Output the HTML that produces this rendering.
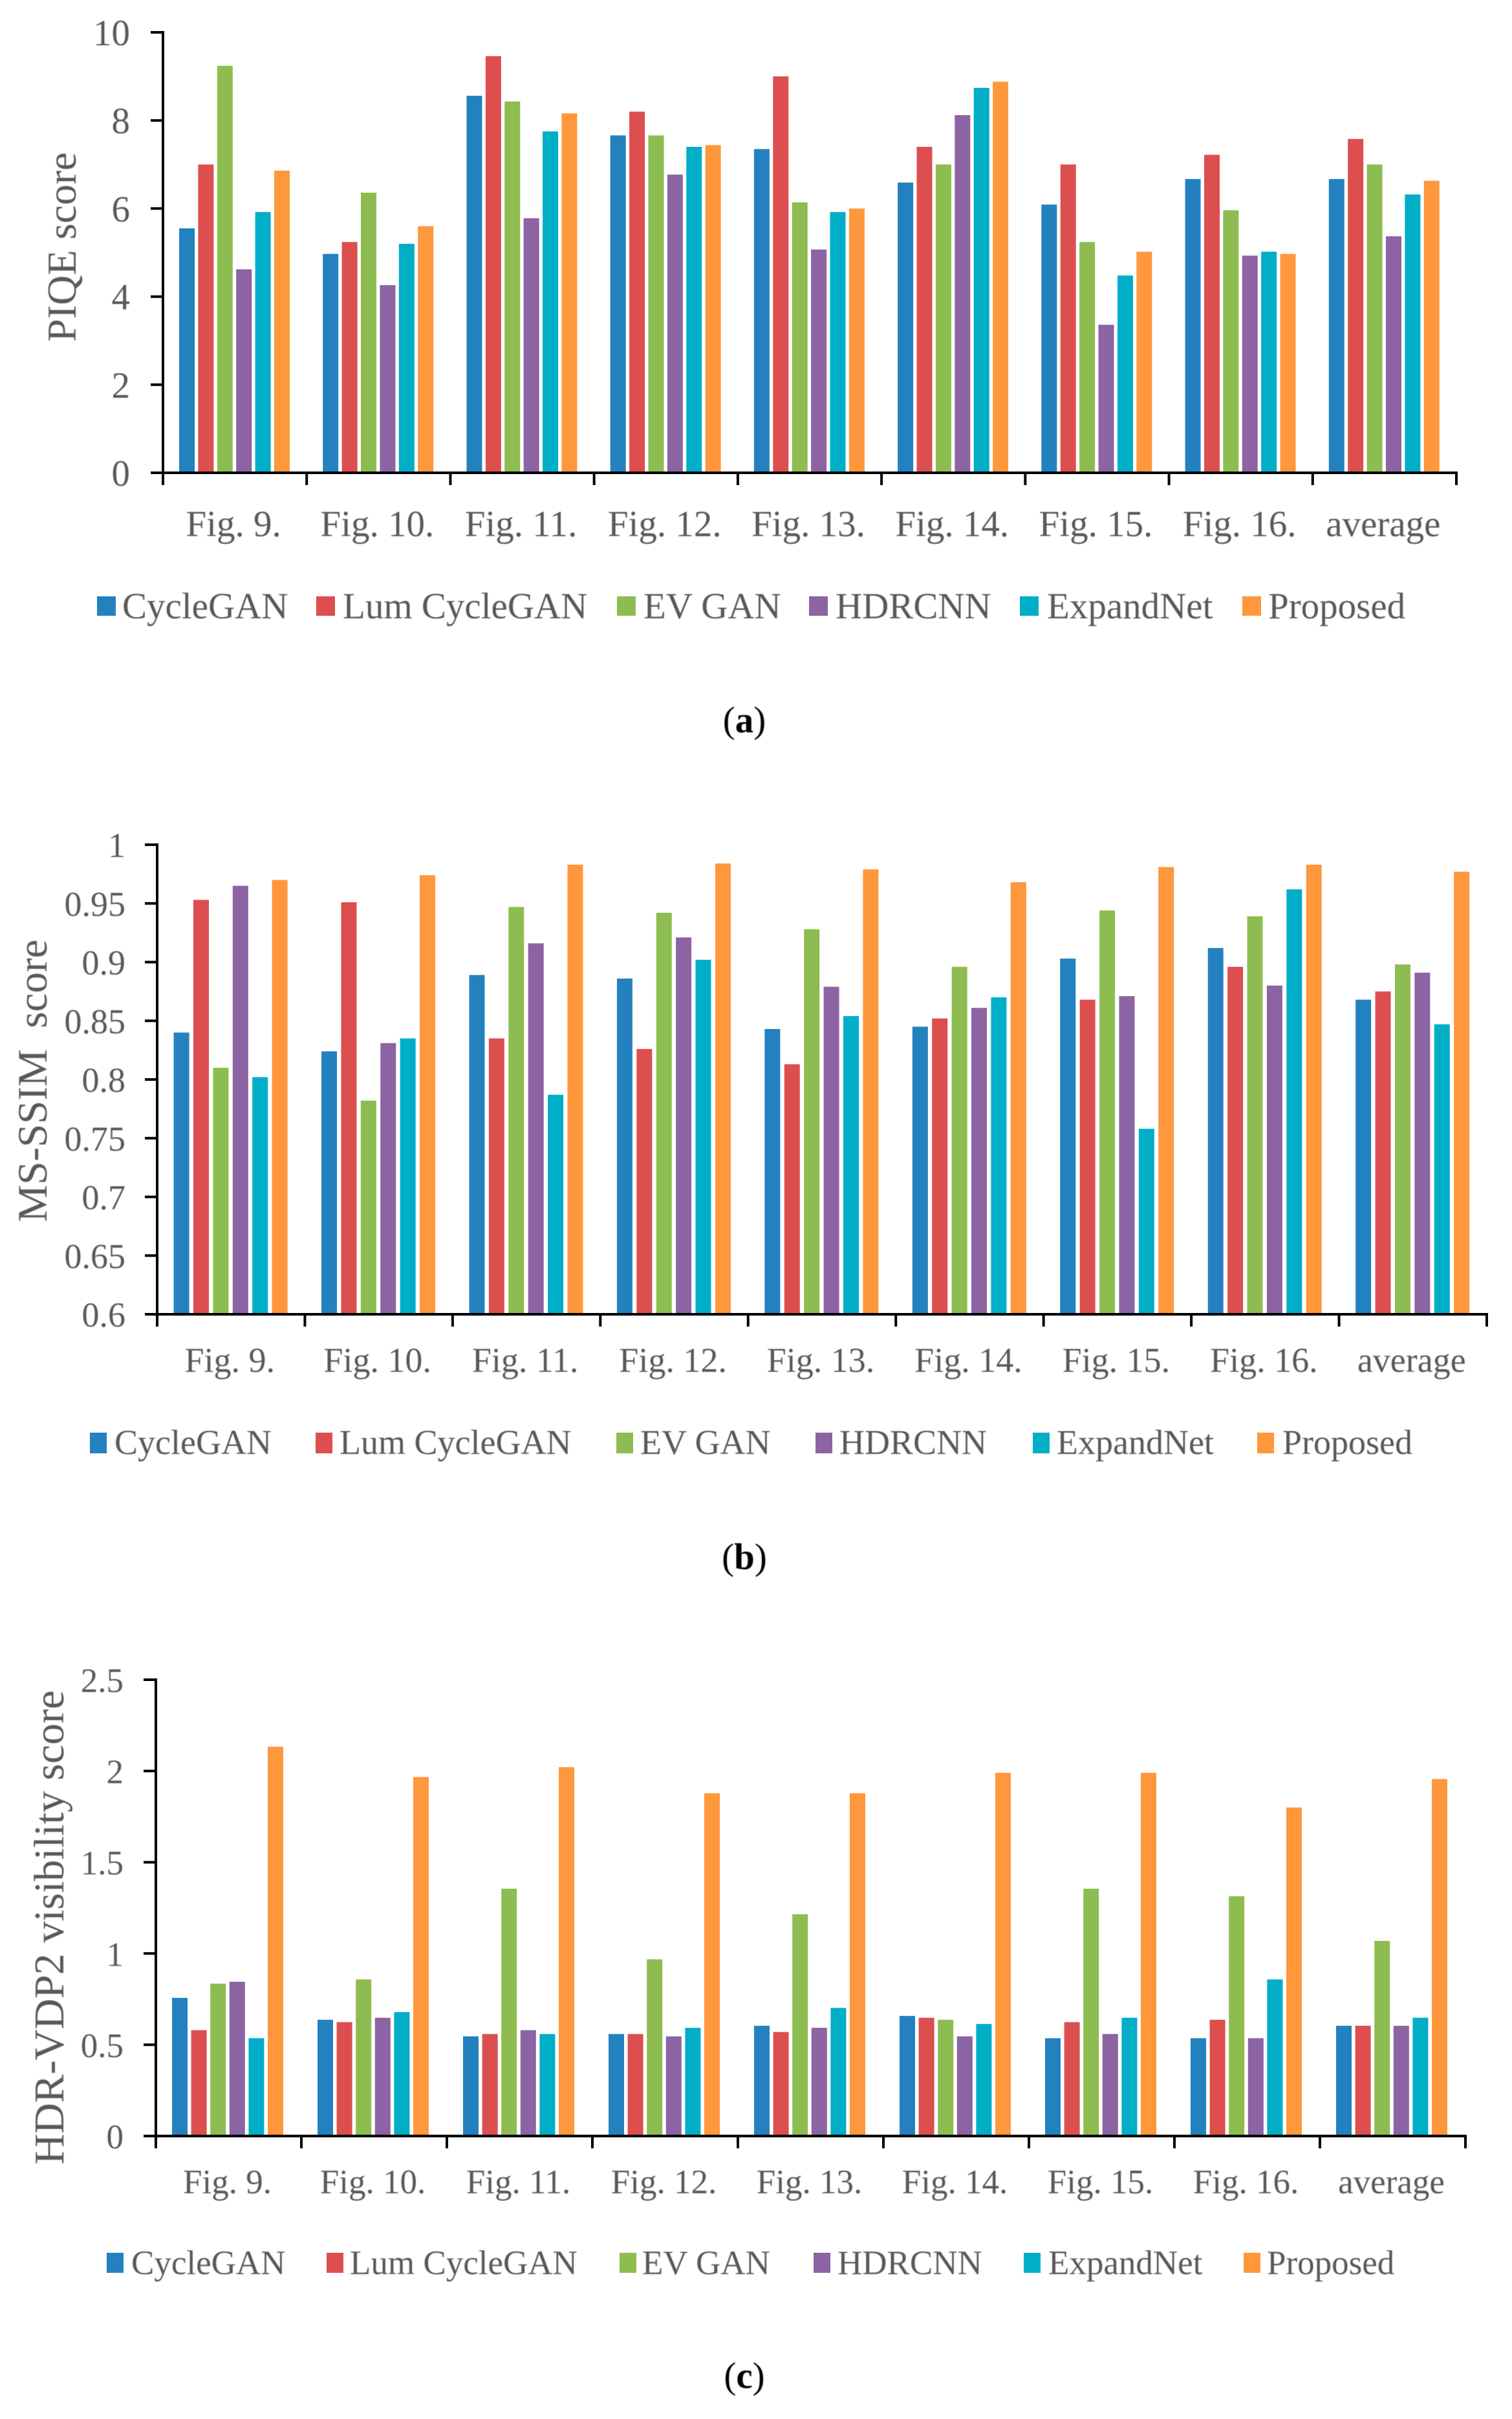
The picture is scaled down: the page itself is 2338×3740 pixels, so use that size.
<!DOCTYPE html>
<html lang="en">
<head>
<meta charset="utf-8">
<title>PIQE, MS-SSIM and HDR-VDP2 scores</title>
<style>
html,body{margin:0;padding:0;background:#fff;}
svg{display:block;}
text{font-family:"Liberation Serif",serif;fill:#595959;filter:blur(0.6px);}
</style>
</head>
<body>
<svg id="figure" xmlns="http://www.w3.org/2000/svg" width="2338" height="3740" viewBox="0 0 2338 3740">
<rect width="2338" height="3740" fill="#ffffff"/>
<text x="1151" y="1132" text-anchor="middle" font-size="57" style="fill:#000">(<tspan font-weight="bold" style="fill:#000">a</tspan>)</text>
<text x="1151" y="2426" text-anchor="middle" font-size="57" style="fill:#000">(<tspan font-weight="bold" style="fill:#000">b</tspan>)</text>
<text x="1151" y="3692" text-anchor="middle" font-size="57" style="fill:#000">(<tspan font-weight="bold" style="fill:#000">c</tspan>)</text>
</svg>
<script>
const categories = ['Fig. 9.','Fig. 10.','Fig. 11.','Fig. 12.','Fig. 13.','Fig. 14.','Fig. 15.','Fig. 16.','average'];
const seriesNames = ['CycleGAN','Lum CycleGAN','EV GAN','HDRCNN','ExpandNet','Proposed'];

const piqeTicks = ['0','2','4','6','8','10'];
const piqeCycleGAN = [5.55,4.97,8.56,7.66,7.35,6.59,6.09,6.67,6.67];
const piqeLumCycleGAN = [7.00,5.24,9.46,8.20,9.00,7.40,7.00,7.22,7.58];
const piqeEVGAN = [9.24,6.36,8.43,7.66,6.14,7.00,5.24,5.96,7.00];
const piqeHDRCNN = [4.62,4.26,5.78,6.77,5.07,8.12,3.36,4.93,5.37];
const piqeExpandNet = [5.92,5.20,7.75,7.40,5.92,8.74,4.48,5.02,6.32];
const piqeProposed = [6.86,5.60,8.16,7.44,6.00,8.88,5.02,4.97,6.63];

const ssimTicks = ['0.6','0.65','0.7','0.75','0.8','0.85','0.9','0.95','1'];
const ssimCycleGAN = [0.840,0.824,0.889,0.886,0.843,0.845,0.903,0.912,0.868];
const ssimLumCycleGAN = [0.953,0.951,0.835,0.826,0.813,0.852,0.868,0.896,0.875];
const ssimEVGAN = [0.810,0.782,0.947,0.942,0.928,0.896,0.944,0.939,0.898];
const ssimHDRCNN = [0.965,0.831,0.916,0.921,0.879,0.861,0.871,0.880,0.891];
const ssimExpandNet = [0.802,0.835,0.787,0.902,0.854,0.870,0.758,0.962,0.847];
const ssimProposed = [0.970,0.974,0.983,0.984,0.979,0.968,0.981,0.983,0.977];

const vdpTicks = ['0','0.5','1','1.5','2','2.5'];
const vdpCycleGAN = [0.757,0.637,0.546,0.559,0.604,0.658,0.536,0.536,0.604];
const vdpLumCycleGAN = [0.580,0.624,0.559,0.559,0.570,0.648,0.624,0.637,0.604];
const vdpEVGAN = [0.835,0.858,1.355,0.968,1.215,0.637,1.355,1.314,1.069];
const vdpHDRCNN = [0.845,0.648,0.580,0.546,0.593,0.546,0.559,0.536,0.604];
const vdpExpandNet = [0.536,0.679,0.559,0.593,0.702,0.614,0.648,0.858,0.648];
const vdpProposed = [2.133,1.967,2.021,1.878,1.878,1.990,1.990,1.800,1.956];

const seriesColors = ['#2481bf','#dd4f4f','#8dbd50','#8c63a3','#00aec8','#ff973c'];
const NS = 'http://www.w3.org/2000/svg';
const figure = document.getElementById('figure');

function mk(parent, tag, attrs, txt) {
  const el = document.createElementNS(NS, tag);
  for (const k in attrs) el.setAttribute(k, attrs[k]);
  if (txt !== undefined) el.textContent = txt;
  parent.appendChild(el);
  return el;
}
function slug(s) {
  return s.toLowerCase().replace(/[^a-z0-9]+/g, '-').replace(/-$/, '');
}

function drawChart(cfg) {
  const g = mk(figure, 'g', {});
  
  
  const vMin = parseFloat(cfg.ticks[0]);
  const vMax = parseFloat(cfg.ticks[cfg.ticks.length - 1]);
  const yScale = v => cfg.y0 + (v - vMin) / (vMax - vMin) * (cfg.y1 - cfg.y0);
  const xScale = i => cfg.x0 + i * (cfg.x1 - cfg.x0) / categories.length;

  // bars
  cfg.series.forEach((vals, s) => {
    vals.forEach((v, c) => {
      const top = yScale(v);
      const bar = mk(g, 'rect', {x: xScale(c) + cfg.pad + s * cfg.slot, y: top, width: cfg.barW, height: Math.max(0, cfg.y0 - top), fill: seriesColors[s]});
      
      
    });
  });

  // axes
  const yAxis = mk(g, 'line', {x1: cfg.x0, x2: cfg.x0, y1: cfg.y1 - 2, y2: cfg.y0 + 2, stroke: '#000', 'stroke-width': 4});
  
  
  const xAxis = mk(g, 'line', {x1: cfg.x0 - 19, x2: cfg.x1 + 2, y1: cfg.y0, y2: cfg.y0, stroke: '#000', 'stroke-width': 4});
  
  

  // y ticks
  cfg.ticks.forEach(t => {
    const y = yScale(parseFloat(t));
    const tick = mk(g, 'line', {x1: cfg.x0 - 19, x2: cfg.x0, y1: y, y2: y, stroke: '#000', 'stroke-width': 4});
    
    
    const lab = mk(g, 'text', {x: cfg.yLabelX, y: y + cfg.yLabelDy, 'text-anchor': 'end', 'font-size': cfg.fs}, t);
    
    
  });

  // x ticks and labels
  for (let i = 0; i <= categories.length; i++) {
    const tick = mk(g, 'line', {x1: xScale(i), x2: xScale(i), y1: cfg.y0, y2: cfg.y0 + 19, stroke: '#000', 'stroke-width': 4});
    
    
  }
  categories.forEach((c, i) => {
    const lab = mk(g, 'text', {x: xScale(i + 0.5) - 2, y: cfg.xLabelY, 'text-anchor': 'middle', 'font-size': cfg.fs}, c);
    
    
  });

  // y title
  const title = mk(g, 'text', {transform: 'translate(' + cfg.titleX + ' ' + cfg.titleY + ') rotate(-90)', 'text-anchor': 'middle', 'font-size': cfg.titleFs}, cfg.title);
  title.setAttribute('xml:space', 'preserve');
  title.style.whiteSpace = 'pre';
  
  

  // legend
  seriesNames.forEach((n, s) => {
    const e = mk(g, 'g', {});
    
    
    const sw = mk(e, 'rect', {x: cfg.legSwatch[s], y: cfg.legY, width: cfg.legW, height: cfg.legH, fill: seriesColors[s]});
    
    
    const tx = mk(e, 'text', {x: cfg.legText[s], y: cfg.legBase, 'font-size': cfg.fs}, n);
    
    
  });
}

drawChart({
  name: 'piqe-chart', title: 'PIQE score', ticks: piqeTicks,
  series: [piqeCycleGAN, piqeLumCycleGAN, piqeEVGAN, piqeHDRCNN, piqeExpandNet, piqeProposed],
  x0: 252, x1: 2252, y0: 731, y1: 50, pad: 25, slot: 29.4, barW: 24,
  fs: 57, yLabelX: 201, yLabelDy: 20, xLabelY: 829,
  titleX: 117, titleY: 382, titleFs: 64,
  legSwatch: [150, 489, 954, 1251, 1577, 1921], legText: [189, 530, 995, 1292, 1619, 1961],
  legY: 922, legW: 29, legH: 30, legBase: 956
});
drawChart({
  name: 'ms-ssim-chart', title: 'MS-SSIM  score', ticks: ssimTicks,
  series: [ssimCycleGAN, ssimLumCycleGAN, ssimEVGAN, ssimHDRCNN, ssimExpandNet, ssimProposed],
  x0: 243, x1: 2299, y0: 2032, y1: 1306, pad: 25.6, slot: 30.4, barW: 24,
  fs: 54, yLabelX: 194, yLabelDy: 19, xLabelY: 2121,
  titleX: 72, titleY: 1671, titleFs: 65,
  legSwatch: [139, 488, 953, 1261, 1597, 1944], legText: [177, 525, 990, 1298, 1634, 1983],
  legY: 2215, legW: 26, legH: 32, legBase: 2248
});
drawChart({
  name: 'hdr-vdp2-chart', title: 'HDR-VDP2 visibility score', ticks: vdpTicks,
  series: [vdpCycleGAN, vdpLumCycleGAN, vdpEVGAN, vdpHDRCNN, vdpExpandNet, vdpProposed],
  x0: 241, x1: 2266, y0: 3302.5, y1: 2597, pad: 25, slot: 29.6, barW: 24,
  fs: 53, yLabelX: 191, yLabelDy: 19, xLabelY: 3391,
  titleX: 98, titleY: 2980, titleFs: 66,
  legSwatch: [165, 505, 958, 1258, 1583, 1923], legText: [203, 541, 993, 1295, 1621, 1959],
  legY: 3483, legW: 26, legH: 31, legBase: 3516
});
</script>
</body>
</html>
